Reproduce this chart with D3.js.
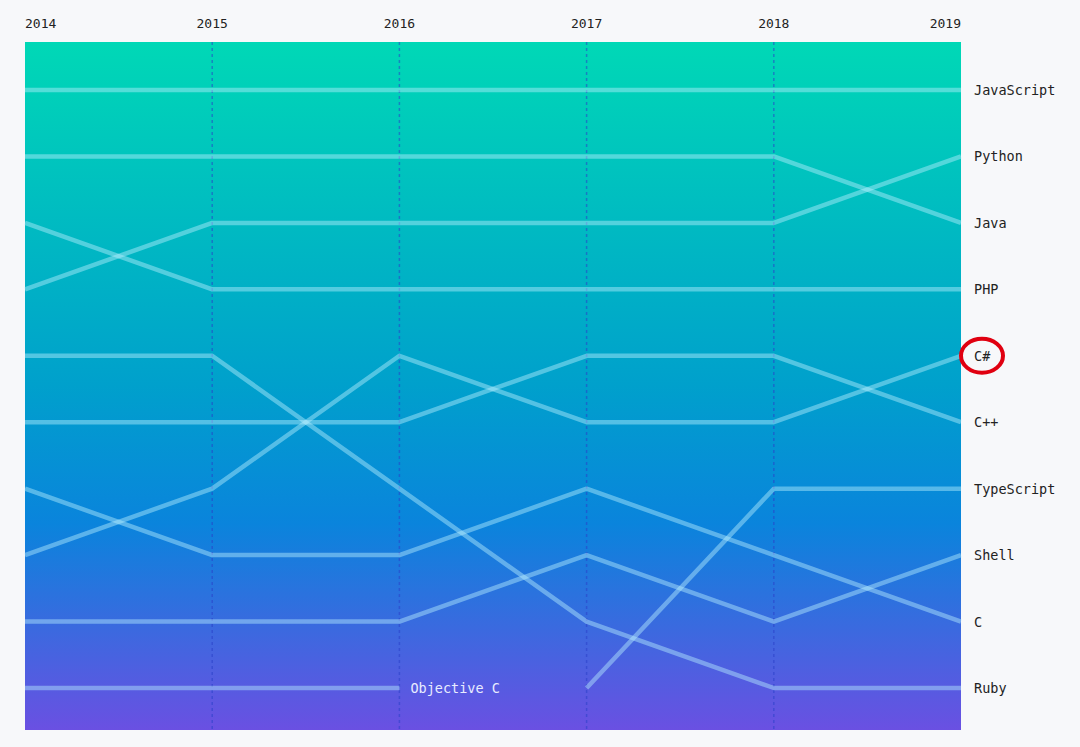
<!DOCTYPE html>
<html>
<head>
<meta charset="utf-8">
<script src="https://cdn.jsdelivr.net/npm/d3@7"></script>
<style>
  body { margin: 0; background: #f7f8fa; }
  text { font-family: "DejaVu Sans Mono", monospace; }
</style>
</head>
<body>
<svg id="chart" width="1080" height="747"></svg>
<script>
// years and ranks (1 = top, null = not ranked)
const years = [2014, 2015, 2016, 2017, 2018, 2019];
const languages = ['JavaScript', 'Python', 'Java', 'PHP', 'C#', 'C++', 'TypeScript', 'Shell', 'C', 'Ruby', 'Objective C'];
const ranks = {
  'JavaScript':  [1, 1, 1, 1, 1, 1],
  'Python':      [4, 3, 3, 3, 3, 2],
  'Java':        [2, 2, 2, 2, 2, 3],
  'PHP':         [3, 4, 4, 4, 4, 4],
  'C#':          [8, 7, 5, 6, 6, 5],
  'C++':         [6, 6, 6, 5, 5, 6],
  'TypeScript':  [null, null, null, 10, 7, 7],
  'Shell':       [9, 9, 9, 8, 9, 8],
  'C':           [7, 8, 8, 7, 8, 9],
  'Ruby':        [5, 5, 7, 9, 10, 10],
  'Objective C': [10, 10, 10, null, null, null]
};
const highlighted = 'C#';

let svg = d3.select('#chart');
let plotLeft = 25, plotRight = 961, plotTop = 42, plotBottom = 730;

let x = d3.scalePoint().domain(years).range([plotLeft, plotRight]);
let y = d3.scaleLinear().domain([1, 10]).range([90, 688]);

// background gradient
let grad = svg.append('defs').append('linearGradient')
    .attr('id', 'bg').attr('x1', 0).attr('y1', 0).attr('x2', 0).attr('y2', 1);
grad.append('stop').attr('offset', '0%').attr('stop-color', '#00d8b6');
grad.append('stop').attr('offset', '50%').attr('stop-color', '#00a0cc');
grad.append('stop').attr('offset', '70%').attr('stop-color', '#0a84dc');
grad.append('stop').attr('offset', '100%').attr('stop-color', '#6a50e2');

svg.append('rect')
    .attr('x', plotLeft).attr('y', plotTop)
    .attr('width', plotRight - plotLeft).attr('height', plotBottom - plotTop)
    .attr('fill', 'url(#bg)');

// dotted year guides
svg.selectAll('.guide').data(years.slice(1, -1)).enter().append('line')
    .attr('x1', d => x(d)).attr('x2', d => x(d))
    .attr('y1', plotTop).attr('y2', plotBottom)
    .attr('stroke', '#2a3fc8').attr('stroke-opacity', 0.55)
    .attr('stroke-width', 1.5).attr('stroke-dasharray', '3,3');

// year labels
svg.selectAll('.year').data(years).enter().append('text')
    .attr('x', (d, i) => i === 0 ? plotLeft : (i === years.length - 1 ? plotRight : x(d)))
    .attr('y', 28)
    .attr('text-anchor', (d, i) => i === 0 ? 'start' : (i === years.length - 1 ? 'end' : 'middle'))
    .attr('font-size', 13).attr('fill', '#222')
    .text(d => d);

// rank lines
let line = d3.line()
    .defined(d => d.rank !== null)
    .x(d => x(d.year)).y(d => y(d.rank));

languages.forEach(lang => {
    let pts = years.map((yr, i) => ({ year: yr, rank: ranks[lang][i] }));
    svg.append('path')
        .datum(pts)
        .attr('d', line)
        .attr('fill', 'none')
        .attr('stroke', '#b8f0ff')
        .attr('stroke-opacity', 0.45)
        .attr('stroke-width', 4.5)
        .attr('stroke-linejoin', 'round');
});

// labels on the right for 2019
languages.forEach(lang => {
    let r = ranks[lang][years.length - 1];
    if (r === null) return;
    svg.append('text')
        .attr('x', 974).attr('y', y(r) + 5)
        .attr('font-size', 13.5).attr('fill', '#222')
        .text(lang);
});

// Objective C label where it drops out
svg.append('text')
    .attr('x', x(2016) + 11).attr('y', y(10) + 5)
    .attr('font-size', 13.5).attr('fill', '#e8ecff')
    .text('Objective C');

// red marker around the highlighted language
let hr = ranks[highlighted][years.length - 1];
svg.append('ellipse')
    .attr('cx', 982).attr('cy', y(hr))
    .attr('rx', 21).attr('ry', 17)
    .attr('fill', 'none').attr('stroke', '#e00010').attr('stroke-width', 4);
</script>
</body>
</html>
